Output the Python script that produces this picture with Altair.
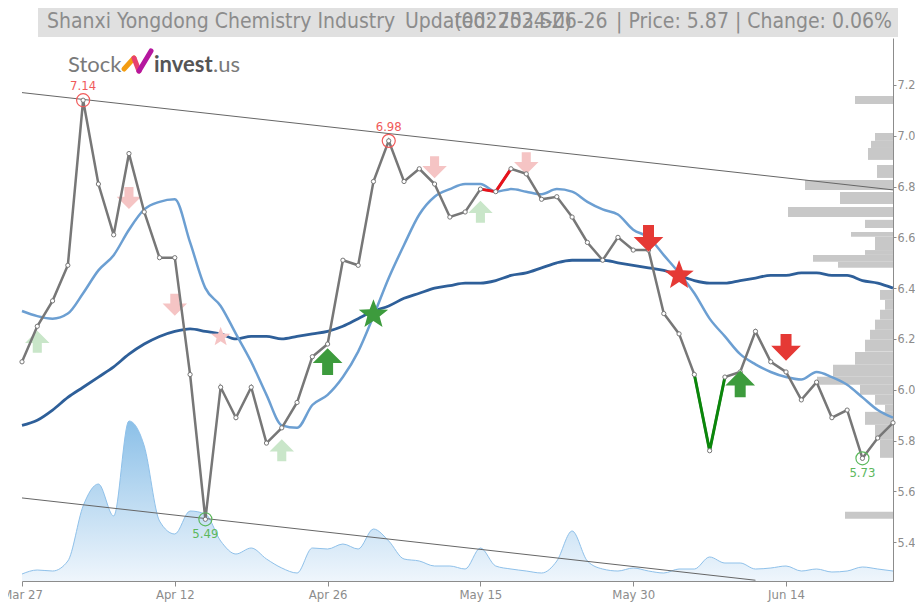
import math
import altair as alt
import pandas as pd

# ---------------- data ----------------
tick_idx = [0, 10, 20, 30, 40, 50]
tick_labels = ["Mar 27", "Apr 12", "Apr 26", "May 15", "May 30", "Jun 14"]
y_ticks = [5.4, 5.6, 5.8, 6.0, 6.2, 6.4, 6.6, 6.8, 7.0, 7.2]

price = [6.11, 6.25, 6.35, 6.49, 7.14, 6.81, 6.61, 6.93, 6.70, 6.52,
         6.52, 6.06, 5.49, 6.01, 5.89, 6.01, 5.79, 5.85, 5.95, 6.13,
         6.18, 6.51, 6.49, 6.82, 6.98, 6.82, 6.87, 6.81, 6.68, 6.70,
         6.79, 6.78, 6.87, 6.85, 6.75, 6.76, 6.68, 6.58, 6.51, 6.60,
         6.55, 6.55, 6.30, 6.22, 6.06, 5.76, 6.05, 6.07, 6.23, 6.11,
         6.07, 5.96, 6.03, 5.89, 5.92, 5.73, 5.81, 5.87]

ma_fast = [6.31, 6.29, 6.28, 6.30, 6.38, 6.47, 6.53, 6.63, 6.71, 6.74,
           6.75, 6.58, 6.40, 6.33, 6.22, 6.11, 5.98, 5.86, 5.85, 5.94,
           5.98, 6.05, 6.15, 6.29, 6.44, 6.57, 6.69, 6.76, 6.79, 6.81,
           6.81, 6.78, 6.79, 6.78, 6.77, 6.79, 6.78, 6.74, 6.71, 6.69,
           6.63, 6.60, 6.53, 6.46, 6.38, 6.28, 6.21, 6.14, 6.10, 6.07,
           6.05, 6.04, 6.07, 6.05, 6.02, 5.97, 5.92, 5.89]

ma_slow = [5.86, 5.88, 5.92, 5.97, 6.01, 6.05, 6.09, 6.14, 6.18, 6.21,
           6.23, 6.24, 6.23, 6.22, 6.20, 6.21, 6.21, 6.20, 6.21, 6.22,
           6.23, 6.25, 6.28, 6.31, 6.33, 6.36, 6.38, 6.40, 6.41, 6.42,
           6.42, 6.43, 6.45, 6.46, 6.48, 6.50, 6.51, 6.51, 6.51, 6.50,
           6.49, 6.48, 6.47, 6.45, 6.43, 6.42, 6.42, 6.43, 6.44, 6.45,
           6.45, 6.46, 6.46, 6.45, 6.45, 6.43, 6.42, 6.40]

volume = [7, 11, 10, 20, 75, 97, 65, 160, 135, 60,
          47, 70, 67, 40, 27, 33, 22, 13, 8, 33,
          32, 37, 32, 52, 40, 22, 20, 15, 15, 12,
          33, 15, 12, 10, 8, 20, 50, 20, 12, 10,
          13, 10, 8, 12, 12, 24, 18, 18, 12, 13,
          15, 10, 12, 9, 10, 14, 12, 10]

# volume-by-price profile (price band low / high, relative volume)
prof_lo = [7.125, 6.980, 6.952, 6.905, 6.834, 6.787, 6.731, 6.680, 6.637, 6.602,
           6.550, 6.531, 6.504, 6.480, 6.354, 6.315, 6.276, 6.236, 6.197, 6.150,
           6.098, 6.051, 6.020, 5.980, 5.941, 5.913, 5.862, 5.803, 5.732, 5.492]
prof_hi = [7.157, 7.011, 6.980, 6.952, 6.885, 6.826, 6.779, 6.720, 6.669, 6.621,
           6.602, 6.550, 6.531, 6.504, 6.393, 6.354, 6.315, 6.276, 6.236, 6.197,
           6.149, 6.098, 6.051, 6.020, 5.980, 5.941, 5.913, 5.862, 5.803, 5.520]
prof_w = [38, 18, 22, 25, 16, 88, 53, 105, 28, 42,
          18, 28, 80, 55, 13, 8, 13, 18, 23, 28,
          38, 60, 76, 33, 18, 8, 28, 18, 13, 48]

# trend channel (index, price)
chan_name = ["upper", "upper", "lower", "lower"]
chan_i = [0, 57, 0, 48]
chan_p = [7.17, 6.787, 5.574, 5.25]

red_seg = [30, 31, 32]
green_seg = [44, 45, 46]

ext_i = [4, 24, 12, 55]
ext_p = [7.14, 6.98, 5.49, 5.73]
ext_kind = ["high", "high", "low", "low"]

sig_i = [1, 17, 30, 20, 47, 7, 10, 27, 33, 41, 50, 23, 43, 13]
sig_p = [6.189, 5.762, 6.701, 6.111, 6.023, 6.755, 6.335, 6.876, 6.892, 6.596, 6.167, 6.302, 6.456, 6.212]
sig_kind = ["up_pale", "up_pale", "up_pale", "up", "up", "down_pale", "down_pale", "down_pale",
            "down_pale", "down", "down", "star_green", "star_red", "star_pale"]

title_left = "Shanxi Yongdong Chemistry Industry"
title_upd = "Updated: 2024-06-26"
title_tick = "(002753.SZ)"
title_right = "| Price: 5.87 | Change: 0.06%"

# ---------------- styling ----------------
FONT = "DejaVu Sans Condensed, Liberation Sans Narrow, Arial Narrow, sans-serif"
GRAY = "#8c8c8c"
W, H = 871, 543
YMIN, YMAX = 5.247, 7.385
XMAX = 57

df = pd.DataFrame({"i": list(range(len(price))), "price": price,
                   "ma_fast": ma_fast, "ma_slow": ma_slow, "vol": volume})
df_chan = pd.DataFrame({"name": chan_name, "i": chan_i, "p": chan_p})
df_prof = pd.DataFrame({"lo": prof_lo, "hi": prof_hi, "w": prof_w})
df_ext = pd.DataFrame({"i": ext_i, "p": ext_p, "kind": ext_kind,
                       "lab": [f"{v:.2f}" for v in ext_p]})
df_sig = pd.DataFrame({"i": sig_i, "p": sig_p, "kind": sig_kind})

xs = alt.Scale(domain=[0, XMAX], nice=False, zero=False)
ys = alt.Scale(domain=[YMIN, YMAX], nice=False, zero=False)

lab_arr = "[" + ",".join(f"'{t}'" for t in tick_labels) + "]"
idx_arr = "[" + ",".join(str(t) for t in tick_idx) + "]"
x_axis = alt.Axis(orient="bottom", values=tick_idx, title=None, grid=False,
                  labelExpr=f"{lab_arr}[indexof({idx_arr}, datum.value)]",
                  labelFlush=False,
                  domainColor=GRAY, tickColor=GRAY, labelColor=GRAY,
                  labelFont=FONT, labelFontSize=13, tickSize=5, labelPadding=2)
y_axis = alt.Axis(orient="right", values=y_ticks, format=".1f", title=None, grid=False,
                  labelFlush=False,
                  domainColor=GRAY, tickColor=GRAY, labelColor=GRAY,
                  labelFont=FONT, labelFontSize=12.5, tickSize=3, labelPadding=1)


def X(field="i"):
    return alt.X(f"{field}:Q", scale=xs, axis=x_axis)


def Y(field):
    return alt.Y(f"{field}:Q", scale=ys, axis=y_axis)


one = pd.DataFrame({"k": [0]})

# volume area: volume mapped onto the lower part of the price axis
vol_area = alt.Chart(df).transform_calculate(
    vy=f"{YMIN} + datum.vol * {(YMAX - YMIN) / H}", vb=f"{YMIN}"
).mark_area(
    interpolate="monotone",
    line={"color": "#8fc1ea", "strokeWidth": 1},
    color=alt.Gradient(gradient="linear",
                       stops=[alt.GradientStop(color="#5aa5de", offset=0),
                              alt.GradientStop(color="#e8f2fb", offset=1)],
                       x1=1, x2=1, y1=0, y2=1),
).encode(x=X(), y=Y("vy"), y2="vb:Q")

# volume profile, drawn leftwards from the right edge
profile = alt.Chart(df_prof).transform_calculate(
    xl=f"{XMAX} - datum.w * {XMAX / W}", xr=f"{XMAX}"
).mark_rect(color="#c8c8c8").encode(
    x=X("xl"), x2="xr:Q", y=Y("lo"), y2="hi:Q")

channel = alt.Chart(df_chan).mark_line(color="#666666", strokeWidth=1).encode(
    x=X(), y=Y("p"), detail="name:N")

slow = alt.Chart(df).mark_line(color="#2e5f99", strokeWidth=2.8, interpolate="monotone").encode(
    x=X(), y=Y("ma_slow"))
fast = alt.Chart(df).mark_line(color="#6c9fd2", strokeWidth=2.5, interpolate="monotone").encode(
    x=X(), y=Y("ma_fast"))

DOWN = "M-0.37,-0.9 L0.37,-0.9 L0.37,-0.1 L1,-0.1 L0,0.9 L-1,-0.1 L-0.37,-0.1 Z"
UP = "M-0.37,0.9 L0.37,0.9 L0.37,0.1 L1,0.1 L0,-0.9 L-1,0.1 L-0.37,0.1 Z"
_pts = []
for k in range(10):
    a = math.radians(-90 + 36 * k)
    r = 1.0 if k % 2 == 0 else 0.42
    _pts.append(f"{r * math.cos(a):.3f},{r * math.sin(a) + 0.1:.3f}")
STAR = "M" + " L".join(_pts) + " Z"

sig_style = {
    "up_pale": (UP, 600, "#c9e6c9"),
    "down_pale": (DOWN, 600, "#f5c4c4"),
    "star_pale": (STAR, 420, "#f5c4c4"),
    "up": (UP, 880, "#3d9b3d"),
    "down": (DOWN, 880, "#e53935"),
    "star_green": (STAR, 950, "#3d9b3d"),
    "star_red": (STAR, 950, "#e53935"),
}


def sig_layer(kind):
    shape, size, col = sig_style[kind]
    return alt.Chart(df_sig[df_sig.kind == kind]).mark_point(
        shape=shape, size=size, filled=True, color=col, opacity=1
    ).encode(x=X(), y=Y("p"))


pale_layers = [sig_layer(k) for k in ["up_pale", "down_pale", "star_pale"]]
solid_layers = [sig_layer(k) for k in ["up", "down", "star_green", "star_red"]]

price_line = alt.Chart(df).mark_line(color="#777777", strokeWidth=2.5).encode(
    x=X(), y=Y("price"))
red_line = alt.Chart(df[df.i.isin(red_seg)]).mark_line(color="#e8121b", strokeWidth=3).encode(
    x=X(), y=Y("price"))
green_line = alt.Chart(df[df.i.isin(green_seg)]).mark_line(color="#0a870a", strokeWidth=3).encode(
    x=X(), y=Y("price"))
dots = alt.Chart(df).mark_point(filled=True, fill="white", stroke="#777777", size=18,
                                strokeWidth=1, opacity=1).encode(x=X(), y=Y("price"))

ext_layers = []
for kind, col, dy in [("high", "#f05a5a", -14), ("low", "#5cb85c", 15)]:
    d = df_ext[df_ext.kind == kind]
    ext_layers.append(alt.Chart(d).mark_point(shape="circle", size=170, filled=False,
                                              color=col, strokeWidth=1.2, opacity=1).encode(
        x=X(), y=Y("p")))
    ext_layers.append(alt.Chart(d).mark_text(color=col, fontSize=13, font=FONT, dy=dy).encode(
        x=X(), y=Y("p"), text="lab:N"))

# title bar (plot area starts at page y = 38)
title_bg = alt.Chart(one).mark_rect(color="#e0e0e0").encode(
    x=alt.value(16), x2=alt.value(876), y=alt.value(-31), y2=alt.value(-1))


def txt(s, x, y, align="left", size=21, color=GRAY, font=FONT, weight="normal"):
    return alt.Chart(pd.DataFrame({"t": [s]})).mark_text(
        align=align, baseline="middle", fontSize=size, font=font, color=color, fontWeight=weight
    ).encode(x=alt.value(x), y=alt.value(y), text="t:N")


title_layers = [
    title_bg,
    txt(title_left, 25, -16),
    txt(title_upd, 383, -16),
    txt(title_tick, 550, -16, align="right"),
    txt(title_right, 870, -16, align="right"),
]

# logo
logo_layers = [
    txt("Stock", 46, 27, size=22, color="#7a7a7a", font="Lato"),
    txt("invest", 132, 27, size=22, color="#555555", font="Lato", weight="bold"),
    txt(".us", 191, 27, size=22, color="#7a7a7a", font="Lato"),
]
for (x1, y1, x2, y2, col) in [(102, 31, 112, 20, "#f39c12"), (112, 20, 117, 33, "#e8416f"),
                              (117, 33, 129, 13, "#b5179e")]:
    logo_layers.append(alt.Chart(one).mark_rule(color=col, strokeWidth=5, strokeCap="round").encode(
        x=alt.value(x1), x2=alt.value(x2), y=alt.value(y1), y2=alt.value(y2)))

chart = alt.layer(
    vol_area, profile, channel, slow, fast, *pale_layers, price_line, red_line, green_line,
    dots, *solid_layers, *ext_layers, *title_layers, *logo_layers
).properties(
    width=W, height=H,
    padding={"left": 14, "top": 30, "right": 907 - 14 - W, "bottom": 21},
    autosize=alt.AutoSizeParams(type="none"),
).configure_view(stroke=None)

chart.save("out.html", embed_options={"renderer": "svg", "actions": False})
